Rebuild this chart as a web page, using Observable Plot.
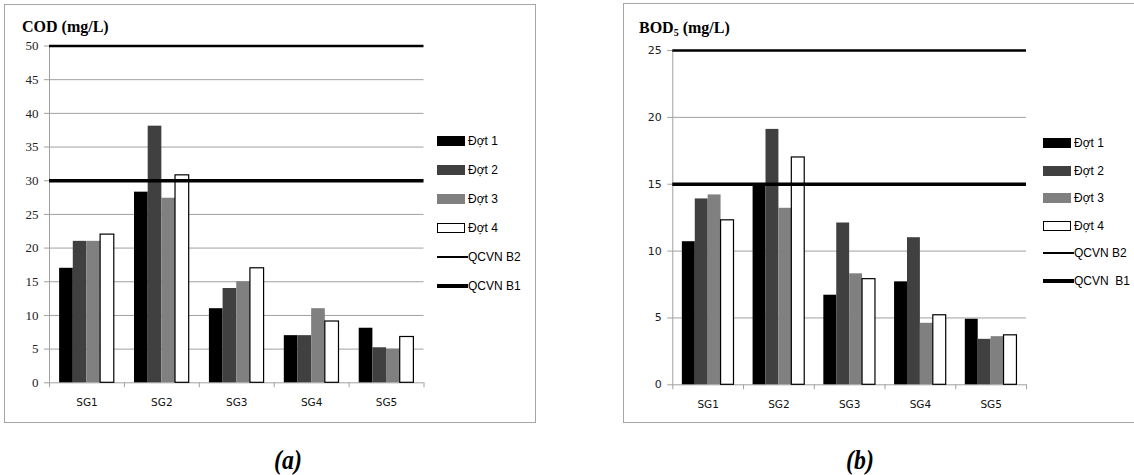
<!DOCTYPE html>
<html>
<head>
<meta charset="utf-8">
<script src="https://cdn.jsdelivr.net/npm/d3@7"></script>
<script src="https://cdn.jsdelivr.net/npm/@observablehq/plot@0.6"></script>
<style>
  html, body { margin: 0; padding: 0; background: #fff; width: 1134px; height: 475px; overflow: hidden; }
  .panel { position: absolute; border: 1px solid #a6a6a6; box-sizing: border-box; }
  .title { position: absolute; font-family: "Liberation Serif", serif; font-weight: bold; font-size: 16px; color: #000; white-space: nowrap; line-height: 1; }
  .title sub { font-size: 10px; vertical-align: -3px; }
  .cap { position: absolute; font-family: "Liberation Serif", serif; font-weight: bold; font-style: italic; font-size: 28px; color: #000; transform: translate(-50%, -50%) scaleX(0.85); white-space: nowrap; }
  .leg { position: absolute; display: flex; align-items: center; font-family: "Liberation Sans", Arial, sans-serif; font-size: 12px; color: #000; white-space: pre; height: 14px; }
  .sw { width: 28px; box-sizing: border-box; margin-right: 3px; }
</style>
</head>
<body>
<div id="root"></div>
<script>
// ---- data ----
const sites = ["SG1", "SG2", "SG3", "SG4", "SG5"];
const rounds = ["Đợt 1", "Đợt 2", "Đợt 3", "Đợt 4"];
const roundColors = ["#000000", "#404040", "#808080", "#ffffff"];

// COD (mg/L)
const codDot1 = [17, 28.3, 11, 7, 8.1];
const codDot2 = [21, 38.1, 14, 7, 5.2];
const codDot3 = [21, 27.4, 15, 11, 5.0];
const codDot4 = [22, 30.8, 17, 9.1, 6.8];

// BOD5 (mg/L)
const bodDot1 = [10.7, 15.0, 6.7, 7.7, 4.9];
const bodDot2 = [13.9, 19.1, 12.1, 11.0, 3.4];
const bodDot3 = [14.2, 13.2, 8.3, 4.6, 3.6];
const bodDot4 = [12.3, 17.0, 7.9, 5.2, 3.7];

const qcvnLabelsA = ["QCVN B2", "QCVN B1"];
const qcvnLabelsB = ["QCVN B2", "QCVN  B1"];
const codQcvn = [50, 30];
const bodQcvn = [25, 15];

const codTicks = [0, 5, 10, 15, 20, 25, 30, 35, 40, 45, 50];
const bodTicks = [0, 5, 10, 15, 20, 25];

// ---- helpers ----
const root = document.getElementById("root");
function el(tag, cls, style, html) {
  const e = document.createElement(tag);
  if (cls) e.className = cls;
  Object.assign(e.style, style || {});
  if (html != null) e.innerHTML = html;
  root.appendChild(e);
  return e;
}

function rowsOf(series) {
  const rows = [];
  series.forEach((vals, j) => vals.forEach((v, i) => rows.push({site: sites[i], i, round: rounds[j], j, value: v})));
  return rows;
}

const groupFrac = 0.73;
const barW = groupFrac / rounds.length;
const off = (1 - groupFrac) / 2;

function chart({rows, ticks, ymax, qcvn, width, height, margins, yFont, ySize}) {
  const gridTicks = ticks.filter(t => t > 0 && t < ymax);
  return Plot.plot({
    width, height,
    marginLeft: margins[0], marginRight: margins[1], marginTop: margins[2], marginBottom: margins[3],
    x: {domain: [0, sites.length], axis: null},
    y: {domain: [0, ymax], axis: null},
    color: {domain: rounds, range: roundColors},
    style: {background: "transparent", overflow: "visible"},
    marks: [
      Plot.gridY(gridTicks, {stroke: "#a0a0a0", strokeOpacity: 1, strokeWidth: 1}),
      Plot.ruleX([0], {stroke: "#a0a0a0", strokeWidth: 1}),
      Plot.ruleY([0], {stroke: "#a0a0a0", strokeWidth: 1}),
      Plot.axisY({ticks, tickSize: 5, tickPadding: 6, stroke: "#a0a0a0", fill: "#222", label: null,
        fontFamily: yFont, fontSize: ySize, tickFormat: d => String(d)}),
      Plot.axisX({ticks: d3.range(0, sites.length + 1), tickSize: 5, stroke: "#a0a0a0", label: null, tickFormat: () => ""}),
      Plot.axisX({ticks: sites.map((s, i) => i + 0.5), tickSize: 0, tickPadding: 16, label: null,
        tickFormat: d => sites[Math.floor(d)], fill: "#111",
        fontFamily: "'DejaVu Sans', sans-serif", fontSize: 10.5}),
      Plot.rect(rows, {
        x1: d => d.i + off + d.j * barW,
        x2: d => d.i + off + (d.j + 1) * barW,
        y1: 0, y2: "value",
        fill: "round",
        stroke: d => d.j === 3 ? "#000" : "none",
        strokeWidth: 1.2
      }),
      Plot.ruleY([qcvn[0]], {stroke: "#000", strokeWidth: 2.6}),
      Plot.ruleY([qcvn[1]], {stroke: "#000", strokeWidth: 3.4})
    ]
  });
}

function legend(x, y0, step, qLabels) {
  rounds.forEach((r, j) => {
    const row = el("div", "leg", {left: x + "px", top: (y0 + j * step - 7) + "px"});
    const sw = document.createElement("div");
    sw.className = "sw";
    Object.assign(sw.style, {height: "10px", background: roundColors[j], border: j === 3 ? "1px solid #000" : "none"});
    row.appendChild(sw);
    row.appendChild(document.createTextNode(r));
  });
  qLabels.forEach((q, k) => {
    const row = el("div", "leg", {left: x + "px", top: (y0 + (4 + k) * step - 7) + "px"});
    const sw = document.createElement("div");
    sw.className = "sw";
    Object.assign(sw.style, {height: (k === 0 ? 2 : 3.5) + "px", background: "#000", marginRight: "0px", width: "31px"});
    row.appendChild(sw);
    row.appendChild(document.createTextNode(q));
  });
}

// ---- panel (a) ----
el("div", "panel", {left: "4px", top: "4px", width: "532px", height: "419px"});
el("div", "title", {left: "22px", top: "19px"}, "COD (mg/L)");
const svgA = chart({
  rows: rowsOf([codDot1, codDot2, codDot3, codDot4]),
  ticks: codTicks, ymax: 50, qcvn: codQcvn,
  width: 540, height: 420, margins: [49, 116.5, 45.5, 37.7],
  yFont: "'Liberation Serif', serif", ySize: 13
});
svgA.style.position = "absolute"; svgA.style.left = "0px"; svgA.style.top = "0px";
root.appendChild(svgA);
legend(437, 141, 29, qcvnLabelsA);
el("div", "cap", {left: "288px", top: "460px"}, "(a)");

// ---- panel (b) ----
el("div", "panel", {left: "623px", top: "3px", width: "560px", height: "420px"});
el("div", "title", {left: "639px", top: "20px"}, "BOD<sub>5</sub> (mg/L)");
const svgB = chart({
  rows: rowsOf([bodDot1, bodDot2, bodDot3, bodDot4]),
  ticks: bodTicks, ymax: 25, qcvn: bodQcvn,
  width: 480, height: 420, margins: [102.3, 24, 50, 35.7],
  yFont: "'DejaVu Sans', sans-serif", ySize: 11
});
svgB.style.position = "absolute"; svgB.style.left = "570px"; svgB.style.top = "0px";
root.appendChild(svgB);
legend(1043, 143, 27.6, qcvnLabelsB);
el("div", "cap", {left: "860px", top: "460px"}, "(b)");
</script>
</body>
</html>
